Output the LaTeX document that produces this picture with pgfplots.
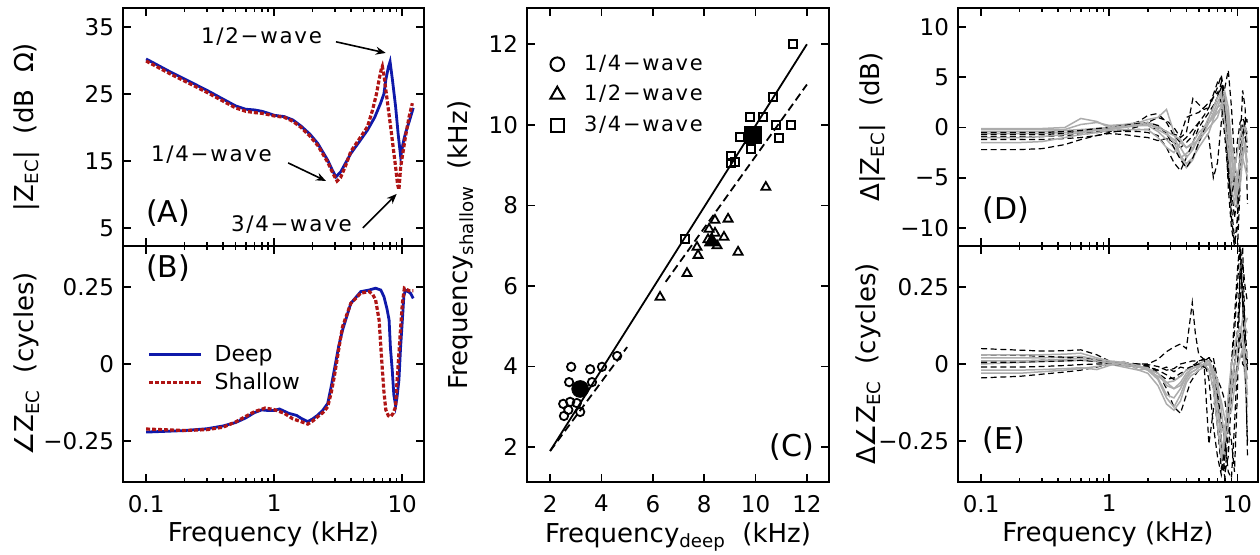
\documentclass[border=0pt]{standalone}
\usepackage{fontspec}
\setmainfont{DejaVu Sans}
\newfontfamily\wide{DejaVu Sans}[LetterSpace=8]
\usepackage{pgfplots}
\usepackage{pgfplotstable}
\pgfplotsset{compat=1.18}
\usetikzlibrary{arrows.meta}

\definecolor{deepblue}{RGB}{15,25,170}
\definecolor{shallred}{RGB}{175,20,20}
\definecolor{lgray}{RGB}{172,172,172}

\pgfplotsset{
  panel/.style={
    scale only axis,
    axis line style={line width=0.9pt},
    tick style={line width=0.8pt, black},
    major tick length=4pt, minor tick length=2.2pt,
    tick align=inside,
    tick label style={font=\fontsize{11.5}{12}\selectfont},
    /pgf/number format/assume math mode=true,
    label style={font=\fontsize{13}{14}\selectfont},
    yticklabel style={xshift=-1pt},
    xticklabel style={yshift=-3pt},
  },
  freqticks/.style={
    xmin=0.066, xmax=14.8,
    xtick={0.1,1,10},
    minor xtick={0.2,0.3,0.4,0.5,0.6,0.7,0.8,0.9,2,3,4,5,6,7,8,9},
  },
  ylab/.style={ylabel style={at={(axis description cs:#1,0.5)}, anchor=center}},
  xlab/.style={xlabel style={at={(axis description cs:0.5,#1)}, anchor=base}},
  deep/.style={deepblue, line width=1.4pt},
  shallow/.style={shallred, line width=1.6pt, dash pattern=on 2pt off 1pt},
  gcurve/.style={lgray, line width=0.75pt},
  kcurve/.style={black, line width=0.6pt, dash pattern=on 3pt off 1.8pt},
}

% Delta |Z_EC| (dB), deep minus shallow, per ear
\pgfplotstableread{
f     g1    g2    g3    g4    g5    g6    k1     k2    k3    k4     k5    k6
0.1   -0.2  -0.4  -0.6  -1.5  -0.1  -1.0  -2.2   -1.0  -1.2  -0.7   -0.9  -0.5
0.2   -0.2  -0.4  -0.6  -1.5  -0.1  -1.0  -2.2   -1.0  -1.2  -0.7   -0.9  -0.5
0.3   -0.2  -0.4  -0.6  -1.4  -0.1  -0.9  -2.1   -0.9  -1.2  -0.7   -0.9  -0.5
0.45  -0.2  -0.3  -0.5  -1.0  0.0   -0.7  -1.7   -0.7  -1.1  -0.6   -0.8  -0.4
0.6   0.3   -0.2  -0.4  -0.7  0.9   -0.5  -1.2   -0.5  -1.0  -0.5   -0.7  -0.3
0.8   0.5   -0.1  -0.2  -0.5  0.6   -0.3  -0.8   -0.3  -0.8  -0.4   -0.5  -0.1
1     0.2   0.0   -0.1  -0.3  0.0   -0.2  -0.5   -0.2  -0.6  -0.3   -0.4  0.0
1.3   0.3   0.2   0.1   -0.2  0.1   0.0   -0.3   0.1   -0.7  -0.4   -0.3  0.2
1.7   0.5   0.4   0.2   -0.2  0.3   0.2   0.1    0.6   -0.9  -0.4   -0.2  0.4
2     0.8   0.5   0.2   -0.2  0.5   0.3   0.5    1.2   -1.0  -0.5   -0.2  0.5
2.4   1.0   0.2   -0.4  -1.0  -0.2  0.0   1.0    1.4   -1.3  -0.8   0.0   0.2
2.8   1.8   -0.5  -1.2  -2.0  -0.7  -0.4  0.7    0.5   -1.1  -2.0   -0.4  -0.6
3.2   -0.5  -1.5  -2.0  -2.5  -1.2  -0.8  0.0    -0.8  -1.5  -3.5   -0.7  -2.0
3.6   -3.0  -2.8  -3.0  -1.5  -2.0  -1.2  -1.0   -1.5  -2.0  -4.3   -0.8  -3.2
4     -4.0  -3.6  -2.6  -2.0  -3.0  -2.0  -0.5   -1.0  -1.5  -3.0   1.0   -4.0
4.5   -3.2  -3.0  -2.0  -1.7  -2.2  -1.5  2.9    -0.2  -0.8  -1.5   1.3   -3.0
5     -1.5  -2.0  -1.0  -1.2  -1.0  -0.5  2.3    0.5   0.5   0.0    1.5   -1.5
5.5   -0.5  -1.2  -0.2  -0.6  0.0   0.0   1.8    0.0   1.2   0.8    2.0   -0.2
6     0.5   -0.5  0.5   0.0   1.0   0.5   2.0    -1.0  2.0   1.5    2.5   1.0
6.5   1.5   0.8   1.0   0.5   2.0   1.2   3.3    -5.0  3.0   2.2    3.0   2.0
7     2.5   2.0   1.5   1.0   3.0   2.0   4.5    -3.5  4.0   3.0    3.5   3.0
7.5   3.3   3.0   2.0   2.2   3.5   2.3   5.0    0.5   5.2   4.0    2.5   4.5
8     1.0   2.5   3.0   3.5   0.5   2.5   2.0    4.0   3.0   1.5    -1.0  2.0
8.5   -3.0  -1.0  1.0   2.0   -2.5  0.0   -4.0   5.7   -2.0  -3.5   -5.0  -6.0
9     -6.0  -4.5  -3.0  -1.5  -5.0  -2.5  -8.0   2.0   -6.0  -9.0   -7.0  -10.0
9.5   -7.5  -6.5  -5.5  -3.5  -4.0  -4.5  -11.0  -3.0  -9.0  -11.5  -5.0  -11.8
10    -6.0  -5.0  -8.0  -5.0  -2.5  -6.5  -12.5  -8.0  -7.0  -10.0  -1.5  -9.0
10.5  -4.0  -3.0  -6.0  -3.5  -1.0  -5.0  -6.0   -5.0  -2.0  -4.0   0.5   -3.0
11    -2.5  -1.0  -3.0  -1.0  0.0   -3.0  -1.0   -1.5  3.7   -1.0   1.0   0.0
11.5  -1.5  0.0   -2.0  -2.0  0.0   -4.0  0.5    0.5   2.0   1.0    0.3   -1.0
12    -2.5  -1.5  -3.5  -4.5  -0.5  -5.0  1.0    0.8   -7.6  0.5    -1.0  -2.0
}\tabD

% Delta angle Z_EC (cycles)
\pgfplotstableread{
f     g1     g2     g3     g4     g5     g6     k1     k2     k3     k4     k5     k6
0.1   0.02   -0.02  0.0    0.03   -0.03  0.01   0.05   -0.045 0.01   0.005  -0.01  0.03
0.2   0.02   -0.02  0.005  0.03   -0.03  0.01   0.045  -0.04  0.01   0.006  -0.01  0.028
0.3   0.02   -0.018 0.008  0.03   -0.025 0.012  0.042  -0.033 0.012  0.008  -0.008 0.025
0.45  0.022  -0.015 0.01   0.032  -0.02  0.015  0.043  -0.026 0.015  0.01   -0.005 0.022
0.6   0.025  -0.012 0.012  0.035  -0.015 0.018  0.046  -0.02  0.02   0.012  -0.002 0.02
0.8   0.015  -0.018 0.008  0.02   -0.008 0.01   0.03   -0.01  0.015  0.008  0.0    0.012
1     0.005  -0.005 0.0    0.01   0.0    0.005  0.01   0.0    0.005  0.0    0.0    0.005
1.3   0.002  0.008  -0.01  0.005  -0.005 0.0    0.004  -0.002 -0.002 -0.005 0.0    0.0
1.7   -0.01  -0.02  -0.02  -0.005 -0.008 -0.01  0.0    -0.004 -0.01  -0.008 0.0    -0.005
2     -0.02  -0.015 -0.03  -0.02  -0.012 -0.015 0.0    -0.005 -0.01  -0.01  -0.002 -0.008
2.4   -0.05  -0.03  -0.07  -0.04  -0.045 -0.03  0.015  -0.025 -0.02  -0.03  -0.008 -0.02
2.8   -0.11  -0.07  -0.13  -0.06  -0.1   -0.06  0.04   -0.08  -0.01  -0.05  -0.02  -0.035
3.2   -0.14  -0.08  -0.15  -0.055 -0.11  -0.08  0.055  -0.14  -0.025 -0.045 -0.015 -0.05
3.6   -0.1   -0.06  -0.12  -0.04  -0.08  -0.07  0.065  -0.16  -0.01  -0.03  0.0    -0.04
4     -0.05  -0.03  -0.06  -0.02  -0.04  -0.04  0.05   -0.1   -0.015 -0.02  0.005  -0.02
4.3   -0.03  -0.02  -0.04  -0.015 -0.02  -0.03  0.15   -0.06  -0.01  -0.01  0.008  -0.01
4.45  -0.025 -0.015 -0.035 -0.012 -0.015 -0.025 0.2    -0.05  -0.008 -0.008 0.01   -0.005
4.7   -0.02  -0.01  -0.03  -0.01  -0.01  -0.02  0.1    -0.035 -0.005 -0.004 0.01   0.0
5     -0.01  0.0    -0.02  -0.01  -0.005 -0.01  0.03   -0.02  0.0    0.0    0.01   0.01
5.5   0.0    0.01   -0.01  0.0    0.0    0.0    0.015  0.0    0.01   -0.01  0.015  0.015
6     0.0    0.01   0.0    0.01   0.0    -0.02  0.01   -0.26  0.02   -0.02  0.02   -0.05
6.5   -0.05  -0.02  -0.04  -0.02  -0.03  -0.08  -0.03  -0.15  0.02   -0.08  0.0    -0.2
7     -0.2   -0.15  -0.1   -0.05  -0.08  -0.2   -0.1   -0.05  -0.05  -0.2   -0.1   -0.3
7.5   -0.3   -0.25  -0.22  -0.15  -0.12  -0.3   -0.3   -0.08  -0.25  -0.34  -0.18  -0.36
8     -0.25  -0.3   -0.2   -0.25  -0.18  -0.22  -0.37  -0.12  -0.35  -0.28  -0.25  -0.3
8.5   -0.15  -0.15  -0.15  -0.2   -0.17  -0.1   -0.2   -0.2   -0.3   -0.18  -0.35  -0.15
9     -0.05  0.0    -0.1   -0.08  -0.15  0.0    0.0    -0.25  -0.1   -0.1   -0.37  0.0
9.5   0.0    0.05   -0.05  0.0    -0.08  0.05   0.15   -0.35  0.0    0.0    -0.2   0.1
10    0.05   0.1    0.0    0.05   -0.02  0.1    0.3    -0.1   0.1    0.1    0.0    0.25
10.5  0.08   0.08   0.08   0.07   0.02   0.12   0.4    0.3    0.3    0.2    0.1    0.38
11    0.1    0.05   0.15   0.08   0.05   0.1    0.2    0.38   0.25   0.33   0.0    0.2
11.5  0.13   -0.05  0.12   0.05   0.0    0.0    0.05   0.1    0.12   0.25   -0.01  0.0
12    0.15   -0.14  0.1    0.02   -0.05  -0.1   -0.02  -0.3   0.0    0.2    -0.02  -0.25
}\tabE

\begin{document}
\begin{tikzpicture}
\useasboundingbox (0,0) rectangle (630pt,277pt);

% ---------------- (A) magnitude
\begin{axis}[xmode=log, panel, freqticks, at={(61.5pt,154pt)}, anchor=south west,
  width=150.5pt, height=119pt,
  ymin=2.3, ymax=37.8, ytick={5,15,25,35}, yticklabels={5,15,25,35},
  xticklabels={}, ylab=-0.32,
  ylabel={|Z\textsubscript{EC}|\ \ (dB\ \ Ω)},
]
\addplot[deep] coordinates {(0.1,30.2) (0.15,28.4) (0.2,27.2) (0.3,25.5) (0.4,24.2) (0.5,23.2) (0.6,22.7) (0.7,22.6) (0.8,22.4) (0.9,22.1) (1.0,21.8) (1.2,21.6) (1.4,21.1) (1.62,20.2) (1.9,19.0) (2.19,17.6) (2.62,15.1) (2.85,13.6) (3.04,12.6) (3.32,13.4) (3.97,16.1) (4.6,17.8) (5.36,19.6) (6.1,21.5) (6.78,23.6) (7.2,25.0) (7.45,27.1) (7.8,29.0) (8.04,29.8) (8.4,27.0) (8.88,23.1) (9.3,19.0) (9.73,15.6) (10.2,17.8) (10.6,19.1) (11.4,21.0) (12.2,22.9)};
\addplot[shallow] coordinates {(0.1,29.9) (0.15,28.1) (0.2,26.9) (0.3,25.2) (0.4,23.9) (0.5,22.9) (0.6,22.4) (0.7,22.2) (0.8,22.1) (0.9,21.9) (1.0,21.7) (1.2,21.5) (1.4,20.9) (1.62,20.0) (1.9,18.7) (2.19,17.3) (2.62,14.8) (2.9,13.0) (3.1,12.0) (3.3,12.5) (3.6,14.2) (3.97,16.4) (4.6,18.2) (5.36,20.1) (5.87,22.6) (6.3,25.0) (6.6,27.1) (6.85,28.6) (7.0,29.1) (7.2,27.8) (7.45,25.6) (8.12,20.1) (8.88,14.1) (9.2,11.5) (9.43,10.7) (9.73,14.1) (10.6,18.6) (11.3,21.5) (12.0,23.6)};
\node[font=\wide\fontsize{10.7}{12}\selectfont, anchor=east] at (axis cs:2.68,33.5) {1/2−wave};
\node[font=\wide\fontsize{10.7}{12}\selectfont, anchor=east] at (axis cs:1.09,15.9) {1/4−wave};
\node[font=\wide\fontsize{10.7}{12}\selectfont, anchor=east] at (axis cs:4.59,5.45) {3/4−wave};
\draw[-{Stealth[length=5pt,width=4pt]}, line width=0.8pt] (axis cs:3.04,32.76) -- (axis cs:7.44,31.1);
\draw[-{Stealth[length=5pt,width=4pt]}, line width=0.8pt] (axis cs:1.285,14.7) -- (axis cs:2.54,12.0);
\draw[-{Stealth[length=5pt,width=4pt]}, line width=0.8pt] (axis cs:4.93,5.0) -- (axis cs:9.06,10.07);
\node[font=\fontsize{15}{16}\selectfont] at (rel axis cs:0.15,0.14) {(A)};
\end{axis}

% ---------------- (B) phase
\begin{axis}[xmode=log, panel, freqticks, at={(61.5pt,36pt)}, anchor=south west,
  width=150.5pt, height=118pt,
  ymin=-0.383, ymax=0.383, ytick={-0.25,0,0.25}, yticklabels={−0.25,0,0.25},
  xticklabels={0.1,1,10}, ylab=-0.32, xlab=-0.254,
  ylabel={∠Z\textsubscript{EC}\ \ (cycles)}, xlabel={Frequency (kHz)},
  legend style={at={(axis description cs:0.08,0.48)}, anchor=west, draw=none, fill=none,
    font=\fontsize{11}{12}\selectfont, row sep=0pt, column sep=4pt, inner sep=0pt},
  legend image code/.code={\draw[#1] (0pt,0pt) -- (26pt,0pt);},
  legend cell align=left,
]
\addplot[deep] coordinates {(0.1,-0.221) (0.2,-0.216) (0.3,-0.21) (0.4,-0.201) (0.5,-0.19) (0.6,-0.175) (0.7,-0.158) (0.8,-0.149) (0.9,-0.151) (1.0,-0.151) (1.1,-0.146) (1.3,-0.16) (1.5,-0.167) (1.62,-0.176) (1.83,-0.187) (2.0,-0.178) (2.19,-0.166) (2.4,-0.15) (2.62,-0.128) (2.8,-0.07) (2.95,-0.019) (3.2,0.06) (3.42,0.110) (3.97,0.197) (4.75,0.235) (5.5,0.240) (6.2,0.246) (6.8,0.240) (7.2,0.219) (7.6,0.18) (7.9,0.143) (8.1,0.05) (8.36,-0.019) (8.6,-0.1) (8.88,-0.135) (9.1,-0.11) (9.43,-0.052) (9.7,0.05) (10.03,0.143) (10.3,0.22) (10.6,0.240) (11.1,0.235) (11.6,0.230) (12.2,0.213)};
\addlegendentry{Deep}
\addplot[shallow] coordinates {(0.1,-0.211) (0.2,-0.216) (0.3,-0.213) (0.4,-0.205) (0.5,-0.188) (0.6,-0.17) (0.7,-0.155) (0.85,-0.143) (1.0,-0.148) (1.2,-0.16) (1.4,-0.178) (1.62,-0.187) (1.83,-0.195) (2.0,-0.185) (2.19,-0.171) (2.4,-0.158) (2.62,-0.139) (2.8,-0.09) (2.95,-0.041) (3.2,0.05) (3.42,0.121) (3.97,0.197) (4.75,0.230) (5.53,0.235) (5.9,0.225) (6.2,0.208) (6.6,0.143) (6.8,0.06) (7.0,-0.019) (7.2,-0.09) (7.45,-0.149) (7.8,-0.168) (8.12,-0.171) (8.5,-0.16) (8.88,-0.139) (9.1,-0.06) (9.43,0.035) (9.73,0.12) (10.03,0.197) (10.4,0.246) (11.3,0.238) (12.2,0.238)};
\addlegendentry{Shallow}
\node[font=\fontsize{15}{16}\selectfont] at (rel axis cs:0.15,0.905) {(B)};
\end{axis}

% ---------------- (C) resonance frequencies
\begin{axis}[panel, at={(263.5pt,36pt)}, anchor=south west,
  width=151pt, height=237pt,
  xmin=1.1, xmax=12.86, ymin=1.13, ymax=12.9,
  xtick={2,4,6,8,10,12}, ytick={2,4,6,8,10,12},
  xticklabels={2,4,6,8,10,12}, yticklabels={2,4,6,8,10,12},
  ylab=-0.219, xlab=-0.127,
  ylabel={Frequency\textsubscript{shallow}\ \ (kHz)}, xlabel={Frequency\textsubscript{deep}\ \ (kHz)},
  legend style={at={(axis description cs:0.076,0.91)}, anchor=north west, draw=none, fill=none,
    font=\wide\fontsize{10.5}{12}\selectfont, row sep=2pt, column sep=8pt, inner sep=0pt},
  legend image code/.code={\draw[#1] plot coordinates {(0pt,0pt)};},
  legend cell align=left,
]
\addplot[black, line width=0.9pt, forget plot] coordinates {(2,1.9) (12,12.0)};
\addplot[black, line width=0.9pt, dash pattern=on 4pt off 2.2pt, forget plot] coordinates {(2,1.9) (5.0,4.48)};
\addplot[black, line width=0.9pt, dash pattern=on 4pt off 2.2pt, forget plot] coordinates {(6.5,6.1) (12,11.0)};
\addplot[only marks, mark=o, mark size=2.1pt, mark options={line width=0.9pt, fill=white}, forget plot] coordinates {
  (4.61,4.26) (4.02,3.99) (3.56,3.93) (2.82,3.99) (2.74,3.61) (3.63,3.61)
  (2.51,3.07) (2.78,3.12) (3.04,3.09) (2.71,2.92) (2.54,2.77) (3.17,2.87)};
\addplot[only marks, mark=triangle, mark size=2.6pt, mark options={line width=0.9pt, fill=white}, forget plot] coordinates {
  (10.4,8.45) (8.42,7.63) (8.93,7.66) (8.19,7.41) (8.42,7.31) (8.77,7.21) (7.72,6.96)
  (7.76,6.76) (9.32,6.84) (7.33,6.31) (6.28,5.72) (8.15,7.15) (8.5,7.0)};
\addplot[only marks, mark=square, mark size=2pt, mark options={line width=0.9pt, fill=white}, forget plot] coordinates {
  (11.46,12.0) (10.68,10.69) (9.78,10.19) (10.29,10.19) (10.79,9.99) (11.38,9.99) (10.91,9.67)
  (9.39,9.69) (9.82,9.39) (9.04,9.22) (9.04,9.05) (9.2,9.07) (7.25,7.16)};
\addplot[only marks, mark=*, mark size=4.2pt, black, forget plot] coordinates {(3.17,3.44)};
\addplot[only marks, mark=triangle*, mark size=4.3pt, black, forget plot] coordinates {(8.3,7.1)};
\addplot[only marks, mark=square*, mark size=4.2pt, black, forget plot] coordinates {(9.9,9.74)};
\addlegendimage{only marks, mark=o, mark size=3.4pt, mark options={line width=1pt}}
\addlegendentry{1/4−wave}
\addlegendimage{only marks, mark=triangle, mark size=4pt, mark options={line width=1pt}}
\addlegendentry{1/2−wave}
\addlegendimage{only marks, mark=square, mark size=3.25pt, mark options={line width=1pt}}
\addlegendentry{3/4−wave}
\node[font=\fontsize{15}{16}\selectfont] at (rel axis cs:0.877,0.074) {(C)};
\end{axis}

% ---------------- (D) magnitude differences
\begin{axis}[xmode=log, panel, freqticks, at={(479pt,154pt)}, anchor=south west,
  width=150pt, height=119pt, xmax=14.5,
  ymin=-11.8, ymax=11.9, ytick={-10,-5,0,5,10}, yticklabels={−10,−5,0,5,10},
  xticklabels={}, ylab=-0.285,
  ylabel={Δ|Z\textsubscript{EC}|\ \ (dB)},
]
\foreach \c in {k1,k2,k3} {\addplot[kcurve] table[x=f,y=\c]{\tabD};}
\foreach \c in {g1,g2,g3} {\addplot[gcurve] table[x=f,y=\c]{\tabD};}
\foreach \c in {k4,k5,k6} {\addplot[kcurve] table[x=f,y=\c]{\tabD};}
\foreach \c in {g4,g5,g6} {\addplot[gcurve] table[x=f,y=\c]{\tabD};}
\node[font=\fontsize{15}{16}\selectfont] at (rel axis cs:0.16,0.15) {(D)};
\end{axis}

% ---------------- (E) phase differences
\begin{axis}[xmode=log, panel, freqticks, at={(479pt,36pt)}, anchor=south west,
  width=150pt, height=118pt, xmax=14.5,
  ymin=-0.383, ymax=0.383, ytick={-0.25,0,0.25}, yticklabels={−0.25,0,0.25},
  xticklabels={0.1,1,10}, ylab=-0.3, xlab=-0.254,
  ylabel={Δ∠Z\textsubscript{EC}\ \ (cycles)}, xlabel={Frequency (kHz)},
]
\foreach \c in {k1,k2,k3} {\addplot[kcurve] table[x=f,y=\c]{\tabE};}
\foreach \c in {g1,g2,g3} {\addplot[gcurve] table[x=f,y=\c]{\tabE};}
\foreach \c in {k4,k5,k6} {\addplot[kcurve] table[x=f,y=\c]{\tabE};}
\foreach \c in {g4,g5,g6} {\addplot[gcurve] table[x=f,y=\c]{\tabE};}
\node[font=\fontsize{15}{16}\selectfont] at (rel axis cs:0.153,0.178) {(E)};
\end{axis}
\end{tikzpicture}
\end{document}
